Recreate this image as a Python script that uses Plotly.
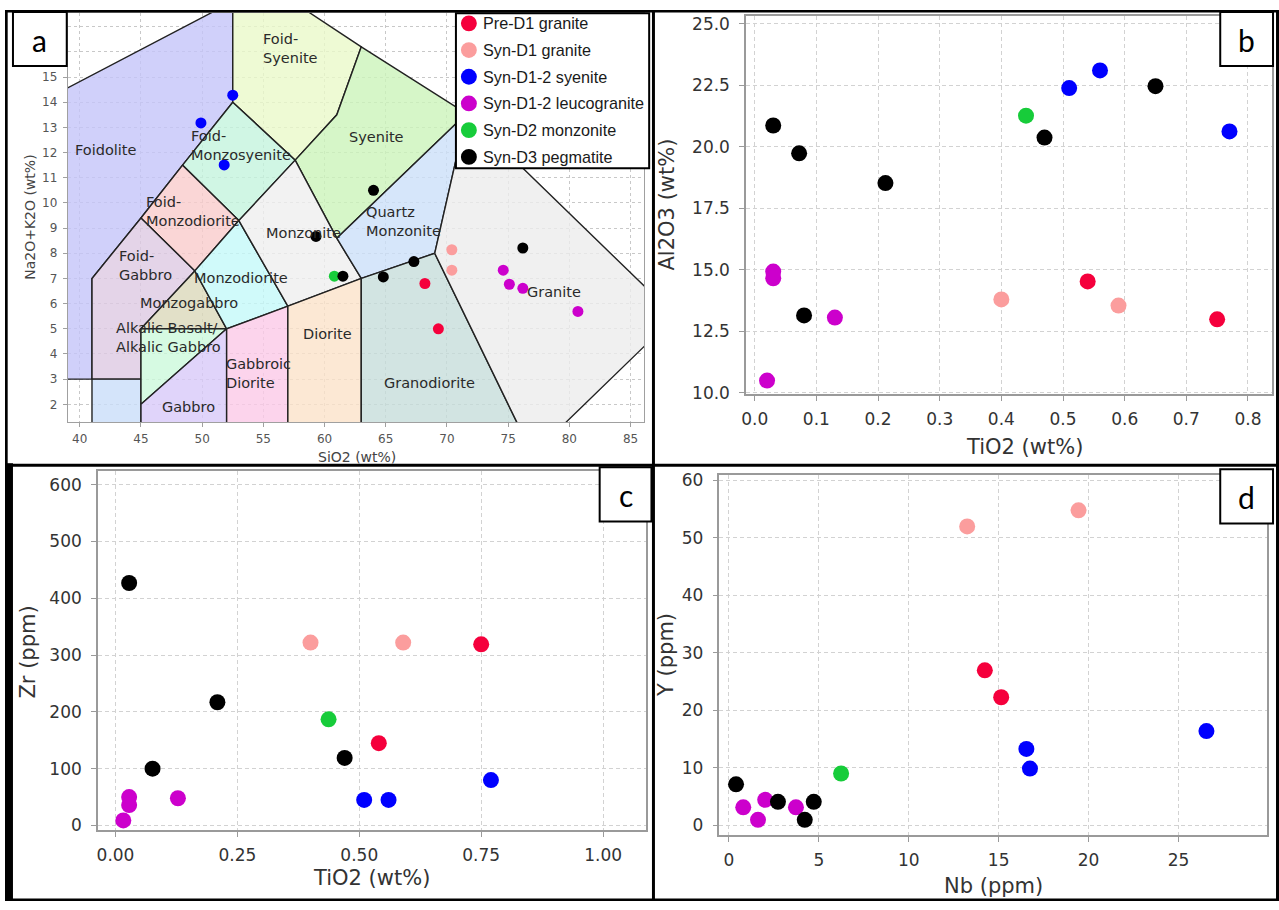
import plotly.graph_objects as go

W, H = 1279, 910

# ---------------- data ----------------
groups = ["Pre-D1 granite", "Syn-D1 granite", "Syn-D1-2 syenite",
          "Syn-D1-2 leucogranite", "Syn-D2 monzonite", "Syn-D3 pegmatite"]

# Panel a (TAS): SiO2 vs Na2O+K2O (wt%)
tas_sio2 = [[68.2, 69.3], [70.4, 70.4], [52.5, 49.9, 51.8],
            [74.6, 75.1, 76.2, 80.7], [60.8],
            [64.0, 59.3, 61.5, 64.8, 67.3, 76.2]]
tas_alk = [[6.80, 5.00], [8.14, 7.33], [14.28, 13.18, 11.51],
           [7.33, 6.77, 6.61, 5.69], [7.09],
           [10.50, 8.67, 7.09, 7.06, 7.67, 8.21]]

# Panel b: TiO2 vs Al2O3 (wt%)
b_tio2 = [[0.54, 0.75], [0.40, 0.59], [0.51, 0.56, 0.77],
          [0.03, 0.03, 0.13, 0.02], [0.44],
          [0.03, 0.072, 0.212, 0.08, 0.47, 0.65]]
b_al2o3 = [[14.52, 12.98], [13.79, 13.54], [22.38, 23.10, 20.62],
           [14.92, 14.65, 13.05, 10.49], [21.26],
           [20.86, 19.73, 18.52, 13.14, 20.37, 22.46]]

# Panel c: TiO2 (wt%) vs Zr (ppm)
c_tio2 = [[0.54, 0.75], [0.40, 0.59], [0.51, 0.56, 0.77],
          [0.028, 0.028, 0.128, 0.016], [0.437],
          [0.028, 0.076, 0.209, 0.47]]
c_zr = [[145, 319], [322, 322], [45, 45, 80],
        [50, 36, 48, 9], [187],
        [427, 100, 217, 119]]

# Panel d: Nb vs Y (ppm)
d_nb = [[14.23, 15.14], [13.25, 19.44], [16.54, 16.74, 26.55],
        [0.80, 1.62, 2.02, 3.73], [6.24],
        [0.40, 2.73, 4.72, 4.22]]
d_y = [[26.97, 22.29], [52.0, 54.8], [13.31, 9.89, 16.4],
       [3.14, 0.97, 4.45, 3.14], [9.03],
       [7.14, 4.11, 4.11, 0.97]]

# TAS (plutonic) field polygons
tas_region_names = ["Foidolite", "Foid-syenite", "Syenite", "Foid-monzosyenite",
                    "Foid-monzodiorite", "Foid-gabbro", "Peridotgabbro", "Monzogabbro",
                    "Alkalic gabbro", "Gabbro", "Monzodiorite", "Gabbroic diorite",
                    "Monzonite", "Diorite", "Quartz monzonite", "Granodiorite", "Granite"]
tas_region_x = [
    [37, 41, 41, 45, 48.4, 52.5, 52.5, 37],
    [52.5, 57.6, 61, 63, 57.4, 52.5],
    [57.6, 61, 71.6, 63, 61],
    [48.4, 53, 57.6, 52.5],
    [45, 49.4, 53, 48.4],
    [41, 45, 45, 49.4, 45, 41],
    [41, 45, 45, 41],
    [45, 52, 49.4],
    [45, 52, 45],
    [45, 52, 52, 45],
    [52, 57, 53, 49.4],
    [52, 57, 57, 52],
    [57, 63, 61, 57.6, 53],
    [57, 63, 63, 57],
    [63, 69, 71.6, 61],
    [63, 77, 69, 63],
    [69, 77, 88, 88, 71.6],
]
tas_region_y = [
    [3, 3, 7, 9.4, 11.5, 14, 18, 14.06],
    [14, 11.7, 13.5, 16.2, 18, 18],
    [11.7, 8.6, 13.55, 16.2, 13.5],
    [11.5, 9.3, 11.7, 14],
    [9.4, 7.3, 9.3, 11.5],
    [3, 3, 5, 7.3, 9.4, 7],
    [0, 0, 3, 3],
    [5, 5, 7.3],
    [2, 5, 5],
    [0, 0, 5, 2],
    [5, 5.9, 9.3, 7.3],
    [0, 0, 5.9, 5],
    [5.9, 7, 8.6, 11.7, 9.3],
    [0, 0, 7, 5.9],
    [7, 8, 13.55, 8.6],
    [0, 0, 8, 7],
    [8, 0, 5.19, 5.81, 13.55],
]

tas_label_text = ["Foidolite", "Foid-<br>Syenite", "Foid-<br>Monzosyenite", "Syenite",
                  "Foid-<br>Monzodiorite", "Quartz<br>Monzonite", "Monzonite",
                  "Foid-<br>Gabbro", "Monzodiorite", "Monzogabbro",
                  "Alkalic Basalt/<br>Alkalic Gabbro", "Gabbroic<br>Diorite", "Gabbro",
                  "Diorite", "Granodiorite", "Granite"]
tas_label_x = [39.43, 54.81, 48.95, 61.80, 45.29, 63.19, 55.05, 43.01, 49.19, 44.72,
               42.76, 51.79, 46.59, 58.06, 64.73, 76.34]
tas_label_y = [12.10, 16.14, 12.30, 12.61, 9.64, 9.28, 8.81, 7.52, 7.02, 6.02,
               4.64, 3.21, 1.91, 4.81, 2.85, 6.48]

# TAS y ticks (16 and 17 sit behind the panel label box, so unlabeled)
tas_y_tickvals = list(range(2, 18))
tas_y_ticktext = [str(v) if v <= 15 else "" for v in tas_y_tickvals]

# ---------------- style ----------------
group_colors = ["#f5003c", "#fb9d9d", "#0000ff", "#cc00cc", "#17cc3a", "#000000"]
tas_region_colors = ["#d0d0fa", "#eefad4", "#d6f6c8", "#d0f6e4", "#fad6d6", "#e4d4e8",
                     "#d4e4fa", "#e2e0c8", "#d6fae2", "#e0d4fa", "#d0fafa", "#fcd4ec",
                     "#f2f2f2", "#fce8d4", "#d6e6fa", "#d2e4e2", "#f0f0f0"]


def fx(px):
    return px / W


def fy(py):
    return 1 - py / H


def rgba_over_white(hexcol, a=0.8):
    h = hexcol.lstrip("#")
    vals = [int(h[i:i + 2], 16) for i in (0, 2, 4)]
    out = [max(0, min(255, round((v - (1 - a) * 255) / a))) for v in vals]
    return "rgba(%d,%d,%d,%.2f)" % (out[0], out[1], out[2], a)


fig = go.Figure()

# TAS fields
for name, xs, ys, col in zip(tas_region_names, tas_region_x, tas_region_y, tas_region_colors):
    fig.add_trace(go.Scatter(
        x=xs + [xs[0]], y=ys + [ys[0]], mode="lines", fill="toself",
        fillcolor=rgba_over_white(col), line=dict(color="#222222", width=1.4),
        hoverinfo="skip", showlegend=False, name=name, xaxis="x", yaxis="y"))

panels = [
    ("x", "y", tas_sio2, tas_alk, 11),
    ("x2", "y2", b_tio2, b_al2o3, 16),
    ("x3", "y3", c_tio2, c_zr, 16),
    ("x4", "y4", d_nb, d_y, 16),
]
for xa, ya, xs_all, ys_all, msize in panels:
    for g, col, xs, ys in zip(groups, group_colors, xs_all, ys_all):
        fig.add_trace(go.Scatter(
            x=xs, y=ys, mode="markers", name=g,
            marker=dict(color=col, size=msize, line=dict(width=0)),
            showlegend=False, xaxis=xa, yaxis=ya))

# axes
a_tick = dict(family="DejaVu Sans", size=12, color="#555555")
big_tick = dict(family="DejaVu Sans", size=17, color="#333333")

common_a = dict(showgrid=True, gridcolor="#c8c8c8", griddash="dot", gridwidth=1,
                showline=True, linecolor="#a0a0a0", linewidth=1, mirror=True,
                ticks="outside", ticklen=4, tickcolor="#a0a0a0", tickfont=a_tick,
                zeroline=False)
common_b = dict(showgrid=True, gridcolor="#d2d2d2", griddash="4px,3px", gridwidth=1,
                showline=True, linecolor="#9a9a9a", linewidth=1.5, mirror=True,
                ticks="outside", ticklen=5, tickcolor="#9a9a9a", tickfont=big_tick,
                zeroline=False, tickmode="linear")

fig.update_layout(
    xaxis=dict(domain=[fx(63), fx(642)], range=[39.02, 86.14], tickmode="linear",
               tick0=40, dtick=5, anchor="y", ticklabelstandoff=2, **common_a),
    yaxis=dict(domain=[fy(424), fy(9)], range=[1.3, 17.55], tickmode="array",
               tickvals=tas_y_tickvals, ticktext=tas_y_ticktext,
               anchor="x", ticklabelstandoff=3, **common_a),
    xaxis2=dict(domain=[fx(744), fx(1272)], range=[-0.014, 0.839], tick0=0, dtick=0.1,
                tickformat=".1f", anchor="y2", ticklabelstandoff=4, **common_b),
    yaxis2=dict(domain=[fy(395.5), fy(11.7)], range=[9.95, 25.33], tick0=10, dtick=2.5,
                tickformat=".1f", anchor="x2", ticklabelstandoff=6, **common_b),
    xaxis3=dict(domain=[fx(93.3), fx(644)], range=[-0.036, 1.089], tick0=0, dtick=0.25,
                tickformat=".2f", anchor="y3", ticklabelstandoff=4, **common_b),
    yaxis3=dict(domain=[fy(838.3), fy(473.3)], range=[-8.5, 625], tick0=0, dtick=100,
                anchor="x3", ticklabelstandoff=6, **common_b),
    xaxis4=dict(domain=[fx(717.3), fx(1267)], range=[-0.52, 29.92], tick0=0, dtick=5,
                anchor="y4", ticklabelstandoff=4, **common_b),
    yaxis4=dict(domain=[fy(843.3), fy(477.7)], range=[-1.71, 60.96], tick0=0, dtick=10,
                anchor="x4", ticklabelstandoff=6, **common_b),
)

annotations = []
# TAS field labels
for t, x, y in zip(tas_label_text, tas_label_x, tas_label_y):
    annotations.append(dict(text=t, x=x, y=y, xref="x", yref="y", xanchor="left",
                            yanchor="middle", align="left", showarrow=False,
                            font=dict(family="DejaVu Sans", size=14.5, color="#2a2a2a")))

# axis titles
small_title = dict(family="DejaVu Sans", size=14, color="#444444")
big_title = dict(family="DejaVu Sans", size=21, color="#333333")
axis_titles = [
    ("SiO2 (wt%)", 353, 460, 0, small_title),
    ("Na2O+K2O (wt%)", 25, 216, -90, small_title),
    ("TiO2 (wt%)", 1023, 449, 0, big_title),
    ("Al2O3 (wt%)", 665, 203, -90, big_title),
    ("TiO2 (wt%)", 368, 887, 0, big_title),
    ("Zr (ppm)", 23, 657, -90, big_title),
    ("Nb (ppm)", 992, 895, 0, big_title),
    ("Y (ppm)", 663, 660, -90, big_title),
]
for t, px, py, ang, f in axis_titles:
    annotations.append(dict(text=t, x=fx(px), y=fy(py), xref="paper", yref="paper",
                            xanchor="center", yanchor="middle", textangle=ang,
                            showarrow=False, font=f))

shapes = []
# legend box (manual legend inside panel a)
lg_left, lg_top, lg_right, lg_bottom = 452.7, 9.3, 646.7, 166.7
shapes.append(dict(type="rect", xref="paper", yref="paper",
                   x0=fx(lg_left), x1=fx(lg_right), y0=fy(lg_bottom), y1=fy(lg_top),
                   fillcolor="white", line=dict(color="black", width=2), layer="above"))
row0, row_gap, mk_x, mk_r, txt_x = 19.6, 27.1, 465.7, 8, 477.5
for i, (g, col) in enumerate(zip(groups, group_colors)):
    cy = row0 + i * row_gap
    shapes.append(dict(type="circle", xref="paper", yref="paper",
                       x0=fx(mk_x - mk_r), x1=fx(mk_x + mk_r),
                       y0=fy(cy + mk_r), y1=fy(cy - mk_r),
                       fillcolor=col, line=dict(width=0), layer="above"))
    annotations.append(dict(text=g, x=fx(txt_x), y=fy(cy), xref="paper", yref="paper",
                            xanchor="left", yanchor="middle", showarrow=False,
                            font=dict(family="Liberation Sans", size=16.2, color="#1a1a1a")))

# panel label boxes
label_boxes = [("a", 8, 8, 62, 63), ("b", 1220, 8, 1273, 63),
               ("c", 597, 470, 649, 525), ("d", 1220, 472, 1273, 527)]
for lab, x0, y0, x1, y1 in label_boxes:
    shapes.append(dict(type="rect", xref="paper", yref="paper",
                       x0=fx(x0), x1=fx(x1), y0=fy(y1), y1=fy(y0),
                       fillcolor="white", line=dict(color="black", width=2), layer="above"))
    annotations.append(dict(text=lab, x=fx((x0 + x1) / 2), y=fy((y0 + y1) / 2 + 1),
                            xref="paper", yref="paper", xanchor="center", yanchor="middle",
                            showarrow=False, font=dict(family="Lato", size=30, color="black")))

# outer frame and dividers
frame = [(0, 6, W, 8.5), (0, 6, 2.7, 468), (0, 466, 8, H), (1276, 6, W, H),
         (0, 907.5, W, H), (649.5, 6, 652.5, H), (0, 466.5, W, 469.5)]
for x0, y0, x1, y1 in frame:
    shapes.append(dict(type="rect", xref="paper", yref="paper",
                       x0=fx(x0), x1=fx(x1), y0=fy(y1), y1=fy(y0),
                       fillcolor="black", line=dict(width=0), layer="above"))

fig.update_layout(
    width=W, height=H, margin=dict(l=0, r=0, t=0, b=0),
    paper_bgcolor="white", plot_bgcolor="white",
    showlegend=False, annotations=annotations, shapes=shapes,
)

fig.write_html(
    "out.html",
    config={"displayModeBar": False},
    post_script="document.body.style.margin='0px';document.body.style.overflow='hidden';",
)
